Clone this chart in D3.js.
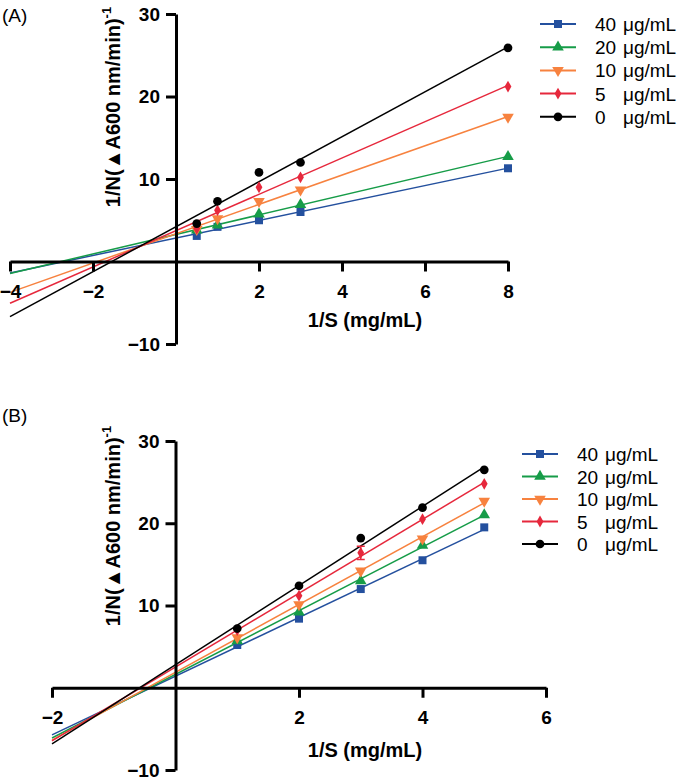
<!DOCTYPE html>
<html><head><meta charset="utf-8">
<script src="https://cdn.jsdelivr.net/npm/d3@7"></script>
<style>body{margin:0;background:#fff}svg{display:block}</style>
</head><body>
<svg id="c" width="683" height="780"></svg>
<script>
// ---------- data ----------
const labels = ["40", "20", "10", "5", "0"];
const unit = "μg/mL";
const colors = ["#24509e", "#169c48", "#f7823f", "#e6283c", "#000000"];
const shapes = ["square", "triangle", "triangleDown", "diamond", "circle"];

const xA = [0.5, 1, 2, 3, 8];
const a40 = [3.1, 4.2, 5.0, 6.0, 11.3];
const a20 = [3.8, 4.4, 5.75, 6.9, 12.7];
const a10 = [3.9, 5.2, 7.3, 8.7, 17.5];
const a5 = [4.0, 6.2, 9.0, 10.2, 21.2];
const a0 = [4.6, 7.3, 10.8, 12.0, 25.9];

const xB = [1, 2, 3, 4, 5];
const b40 = [5.2, 8.4, 12.0, 15.5, 19.5];
const b20 = [5.7, 9.2, 13.0, 17.3, 21.0];
const b10 = [6.1, 10.1, 14.2, 18.1, 22.7];
const b5 = [7.0, 11.2, 16.4, 20.5, 24.8];
const b0 = [7.2, 12.4, 18.2, 21.9, 26.5];
const errB5 = [0, 0, 0.8, 0, 0];

const xTicksA = [-4, -2, 2, 4, 6, 8];
const xTicksB = [-2, 2, 4, 6];
const yTicks = [30, 20, 10, -10];

// ---------- helpers ----------
const svg = d3.select("#c");
const FONT = "'Liberation Sans', Arial, sans-serif";

function fit(xs, ys) {
  const n = xs.length, mx = d3.mean(xs), my = d3.mean(ys);
  let sxy = 0, sxx = 0;
  for (let i = 0; i < n; i++) { sxy += (xs[i]-mx)*(ys[i]-my); sxx += (xs[i]-mx)**2; }
  const m = sxy / sxx; return { m, b: my - m*mx };
}
function symPath(shape) {
  const map = {
    square: [d3.symbolSquare, 64, 0],
    triangle: [d3.symbolTriangle, 58, 0],
    triangleDown: [d3.symbolTriangle, 58, 180],
    diamond: [d3.symbolDiamond, 40, 0],
    circle: [d3.symbolCircle, 60, 0]
  };
  const s = map[shape];
  return { d: d3.symbol().type(s[0]).size(s[1])(), rot: s[2] };
}
function drawMarker(g, shape, color, x, y) {
  const p = symPath(shape);
  g.append("path").attr("d", p.d).attr("fill", color)
    .attr("transform", `translate(${x},${y}) rotate(${p.rot})`);
}

function panel(opt) {
  const g = svg.append("g");
  const x = d3.scaleLinear().domain(opt.xDomain).range(opt.xRange);
  const y = d3.scaleLinear().domain([-10, 30]).range(opt.yRange);

  // fitted lines
  opt.series.forEach((ys, i) => {
    const f = fit(opt.xs, ys);
    const x0 = opt.lineFrom, x1 = opt.lineTo;
    g.append("line")
      .attr("x1", x(x0)).attr("y1", y(f.m*x0 + f.b))
      .attr("x2", x(x1)).attr("y2", y(f.m*x1 + f.b))
      .attr("stroke", colors[i]).attr("stroke-width", 1.5);
  });

  // axes
  const xAxis = d3.axisBottom(x).tickValues(opt.xTicks).tickSize(10).tickSizeOuter(0).tickPadding(13).tickFormat(d3.format("d"));
  const yAxis = d3.axisLeft(y).tickValues(yTicks).tickSize(10).tickSizeOuter(0).tickPadding(6).tickFormat(d3.format("d"));
  const gx = g.append("g").attr("transform", `translate(0,${y(0)})`).call(xAxis);
  const gy = g.append("g").attr("transform", `translate(${x(0)},0)`).call(yAxis);
  [gx, gy].forEach(a => {
    a.selectAll("path.domain").attr("stroke", "#000").attr("stroke-width", 3);
    a.selectAll(".tick line").attr("stroke", "#000").attr("stroke-width", 3);
    a.selectAll("text").attr("font-family", FONT).attr("font-weight", "bold")
      .attr("font-size", 19).attr("fill", "#000");
  });

  // markers and error bars
  opt.series.forEach((ys, i) => {
    ys.forEach((v, j) => {
      const e = opt.errs && opt.errs[i] ? opt.errs[i][j] : 0;
      if (e) {
        const cx = x(opt.xs[j]);
        g.append("path")
          .attr("d", `M${cx-4},${y(v+e)}H${cx+4}M${cx},${y(v+e)}V${y(v-e)}M${cx-4},${y(v-e)}H${cx+4}`)
          .attr("stroke", colors[i]).attr("stroke-width", 1.5).attr("fill", "none");
      }
      drawMarker(g, shapes[i], colors[i], x(opt.xs[j]), y(v));
    });
  });

  // axis titles
  const yt = g.append("text").attr("font-family", FONT).attr("font-weight", "bold")
    .attr("font-size", 20).attr("text-anchor", "middle")
    .attr("transform", `translate(${opt.yTitleX},${opt.yTitleY}) rotate(-90)`);
  yt.append("tspan").text("1/N(▲A600 nm/min)");
  yt.append("tspan").attr("dy", -9).attr("font-size", 13).text("-1");

  g.append("text").attr("font-family", FONT).attr("font-weight", "bold")
    .attr("font-size", 20).attr("text-anchor", "middle")
    .attr("x", opt.xTitleX).attr("y", opt.xTitleY).text("1/S (mg/mL)");

  // panel label
  g.append("text").attr("font-family", FONT).attr("font-size", 19)
    .attr("x", 2).attr("y", opt.labelY).text(opt.label);

  // legend
  labels.forEach((lab, i) => {
    const ly = opt.legY + i * opt.legStep;
    g.append("line").attr("x1", opt.legX).attr("x2", opt.legX + 36)
      .attr("y1", ly).attr("y2", ly).attr("stroke", colors[i]).attr("stroke-width", 2);
    drawMarker(g, shapes[i], colors[i], opt.legX + 18, ly);
    g.append("text").attr("font-family", FONT).attr("font-size", 19)
      .attr("x", opt.legX + 55).attr("y", ly + 7).text(lab);
    g.append("text").attr("font-family", FONT).attr("font-size", 19)
      .attr("x", opt.legX + 83).attr("y", ly + 7).text(unit);
  });
}

panel({
  xs: xA, series: [a40, a20, a10, a5, a0],
  xDomain: [-4, 8], xRange: [10, 508], yRange: [344, 14],
  lineFrom: -4, lineTo: 8, xTicks: xTicksA,
  yTitleX: 120, yTitleY: 107, xTitleX: 365, xTitleY: 327,
  label: "(A)", labelY: 22,
  legX: 540, legY: 24, legStep: 23.2
});

panel({
  xs: xB, series: [b40, b20, b10, b5, b0], errs: [null, null, null, errB5, null],
  xDomain: [-2, 6], xRange: [52, 546], yRange: [770, 441],
  lineFrom: -2, lineTo: 5, xTicks: xTicksB,
  yTitleX: 120, yTitleY: 526, xTitleX: 365, xTitleY: 757,
  label: "(B)", labelY: 422,
  legX: 522, legY: 454, legStep: 22.5
});
</script>
</body></html>
